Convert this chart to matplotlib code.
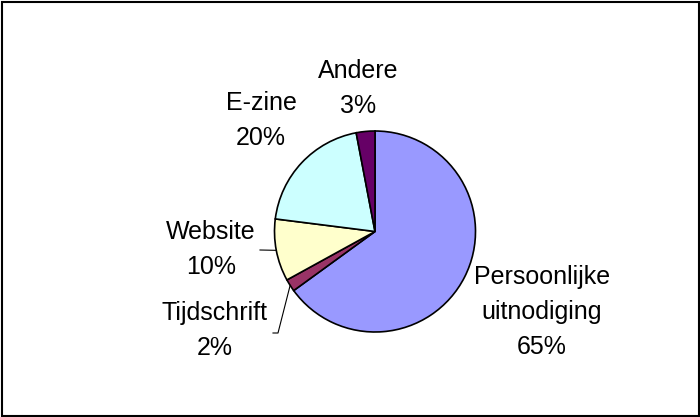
import numpy as np
import matplotlib
matplotlib.use('Agg')
import matplotlib.pyplot as plt
from matplotlib.patches import Rectangle

plt.rcParams['font.family'] = ['Liberation Sans', 'DejaVu Sans']

# data (clockwise from 12 o'clock)
labels = ['Persoonlijke\nuitnodiging', 'Tijdschrift', 'Website', 'E-zine', 'Andere']
values = [65, 2, 10, 20, 3]
colors = ['#9999FF', '#993366', '#FFFFCC', '#CCFFFF', '#660066']

# label anchor: centre x, baseline of last line (pixels from top)
label_pos = [(542, 354), (215, 355), (211, 274), (261, 145), (358, 113)]
# leader lines: slice index -> bend points (pixels)
leaders = {2: [(260, 250)], 1: [(278, 333), (273, 333)]}

W, H = 700, 417
cx, cy, R = 375, H - 231.5, 100.5

fig = plt.figure(figsize=(W/100, H/100), dpi=100)
ax = fig.add_axes([0, 0, 1, 1])

ax.pie(values, colors=colors, startangle=90, counterclock=False,
       center=(cx, cy), radius=R, frame=True,
       wedgeprops=dict(edgecolor='black', linewidth=1.2))
ax.set_xlim(0, W)
ax.set_ylim(0, H)
ax.set_aspect('equal')
ax.axis('off')

tot = float(sum(values))
start = 90.0
for i, v in enumerate(values):
    ang = start - 360.0*v/tot/2
    start -= 360.0*v/tot
    lx, ly = label_pos[i]
    ax.text(lx, H - ly, '%s\n%d%%' % (labels[i], v), ha='center', va='baseline',
            multialignment='center', fontsize=18, linespacing=1.57, color='black')
    if i in leaders:
        ex = cx + R*np.cos(np.radians(ang))
        ey = cy + R*np.sin(np.radians(ang))
        xs = [ex] + [p[0] for p in leaders[i]]
        ys = [ey] + [H - p[1] for p in leaders[i]]
        ax.plot(xs, ys, color='black', lw=0.8)

fig.patches.append(Rectangle((1.5/W, 1.5/H), 1 - 3.0/W, 1 - 3.0/H, transform=fig.transFigure,
                             fill=False, edgecolor='black', linewidth=1.5))

fig.savefig('out.png', dpi=100, facecolor='white')
